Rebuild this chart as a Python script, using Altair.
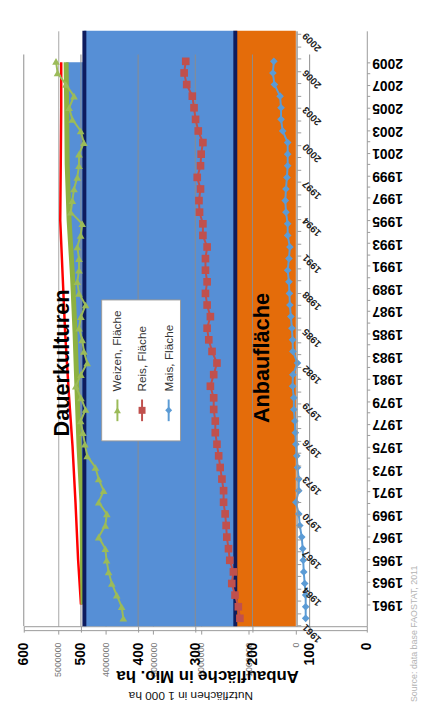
import altair as alt
import pandas as pd

# ---------------- data ----------------
jahre = list(range(1961, 2010))

# series (read in Mio. ha on the bold scale)
weizen = [425.9, 428.8, 437.4, 446.0, 451.7, 455.2, 457.4, 469.0, 457.4, 454.7,
          469.0, 460.3, 469.0, 474.7, 489.1, 493.1, 496.6, 500.5, 491.9, 500.0,
          509.1, 500.0, 489.1, 494.8, 497.8, 503.4, 500.0, 491.9, 503.4, 506.4,
          503.4, 503.4, 506.4, 500.5, 497.8, 517.8, 515.0, 512.1, 506.4, 503.4,
          503.4, 494.8, 500.5, 515.0, 520.7, 512.1, 526.4, 540.9, 543.6]
reis = [222.0, 224.7, 230.5, 236.2, 233.3, 239.7, 241.9, 244.8, 246.0, 247.8,
        250.5, 250.5, 253.4, 256.4, 259.1, 262.1, 265.0, 265.0, 267.8, 267.8,
        273.6, 267.8, 262.1, 270.7, 276.4, 279.3, 273.6, 279.3, 282.2, 279.3,
        282.2, 282.2, 279.3, 286.7, 286.7, 292.6, 293.6, 290.9, 296.6, 290.9,
        289.7, 286.7, 294.8, 299.5, 302.2, 305.2, 315.0, 319.5, 316.7]
mais = [106.9, 106.9, 106.9, 108.6, 110.3, 111.2, 112.1, 113.8, 117.2, 119.0,
        124.1, 119.0, 119.0, 121.2, 122.4, 124.1, 125.0, 125.9, 127.6, 127.6,
        129.8, 129.3, 121.2, 129.3, 129.8, 131.0, 132.8, 134.5, 135.3, 136.2,
        138.4, 136.2, 134.5, 138.4, 138.4, 141.4, 142.6, 141.4, 139.7, 138.4,
        138.4, 138.4, 147.1, 150.0, 150.0, 151.7, 161.6, 164.3, 162.6]
serien = ["Weizen, Fläche", "Reis, Fläche", "Mais, Fläche"]

# smooth total curves (Mio. ha)
kurve_jahre = [1961, 1965, 1970, 1975, 1980, 1985, 1990, 1995, 2000, 2005, 2009]
kurve_rot = [500.0, 505.0, 509.5, 514.7, 521.6, 527.6, 531.9, 536.2, 535.3, 534.5, 534.5]
kurve_oliv = [496.6, 497.4, 498.3, 503.4, 506.9, 510.3, 514.7, 520.7, 524.1, 525.0, 525.9]

linien_navy = [494, 230]
gitter = [100, 200, 300, 400, 500, 600]
achse_mio = [0, 100, 200, 300, 400, 500, 600]
achse_tsd = [0, 1000000, 2000000, 3000000, 4000000, 5000000]

flaechen = ["Anbaufläche", "Dauerkulturen"]
flaeche_von = [0, 1285000]
flaeche_bis = [1285000, 4456000]

texte_bereiche = ["Dauerkulturen", "Anbaufläche"]
quelle = ["Source: data base FAOSTAT, 2011"]

# ---------------- styles ----------------
FONT = "Liberation Sans"
BLAU = "#568FD6"
ORANGE = "#E46C0A"
NAVY = "#0E1C5E"
serien_farben = ["#9BBB59", "#C0504D", "#5B9BD5"]
formen = ["triangle-up", "square", "diamond"]

# ---------------- frames ----------------
df_ser = pd.DataFrame({
    "Jahr": jahre * 3,
    "Serie": [serien[0]] * len(jahre) + [serien[1]] * len(jahre) + [serien[2]] * len(jahre),
    "Wert": weizen + reis + mais,
})
df_kurve = pd.DataFrame({"Jahr": kurve_jahre, "rot": kurve_rot, "oliv": kurve_oliv,
                         "navy": [linien_navy[0]] * len(kurve_jahre)})
df_navy = pd.DataFrame({"wert": linien_navy})
df_gitter = pd.DataFrame({"wert": gitter})
df_fl = pd.DataFrame({"name": flaechen, "von": flaeche_von, "bis": flaeche_bis})
df_jahre = pd.DataFrame({"Jahr": jahre})

# ---------------- inner (1 000 ha) layer: coloured areas ----------------
xs_inner = alt.Scale(domain=[-1492000, 5720000], reverse=True, nice=False, zero=False)
inner_axis = alt.Axis(orient="bottom", offset=4, values=achse_tsd, format="d",
                      labelAngle=270, labelAlign="right", labelBaseline="middle",
                      labelFontSize=9, labelColor="#777", labelPadding=8,
                      tickSize=4, tickColor="#999", domainColor="#999",
                      grid=True, gridColor="#a6a6a6",
                      title="Nutzflächen in 1 000 ha", titleAngle=180, titleFontSize=12,
                      titleFontWeight="normal", titleColor="#111",
                      titleX=169, titleY=66, titleAlign="center", titleBaseline="middle")
inner = alt.Chart(df_fl).mark_rect().encode(
    x=alt.X("von:Q", scale=xs_inner, axis=inner_axis),
    x2="bis:Q",
    color=alt.Color("name:N", scale=alt.Scale(domain=flaechen, range=[ORANGE, BLAU]), legend=None),
)

# ---------------- outer (Mio. ha) layer ----------------
xs_outer = alt.Scale(domain=[0, 600], reverse=True, nice=False, zero=False)
ys_outer = alt.Scale(domain=[1959.08, 2011.79], nice=False, zero=False)
outer_x_axis = alt.Axis(orient="bottom", values=achse_mio, format="d",
                        labelAngle=270, labelAlign="right", labelBaseline="middle",
                        labelFontSize=14, labelFontWeight="bold", labelColor="#000",
                        labelPadding=10, tickSize=6, tickColor="#999", domainColor="#999",
                        grid=False,
                        title="Anbaufläche in Mio. ha", titleAngle=180, titleFontSize=17,
                        titleFontWeight="bold", titleColor="#000",
                        titleX=186, titleY=50, titleAlign="center", titleBaseline="middle")
outer_y_axis = alt.Axis(orient="right", values=jahre, format="d",
                        labelExpr="datum.value % 2 == 1 ? datum.label : ''",
                        labelAngle=180, labelAlign="right", labelBaseline="middle",
                        labelFontSize=14, labelFontWeight="bold", labelColor="#000",
                        labelPadding=2, tickSize=3, tickColor="#999", domainColor="#999",
                        labelOverlap=False, grid=False, title="")

ox = lambda f: alt.X(f, scale=xs_outer, axis=outer_x_axis)
oy = lambda f: alt.Y(f, scale=ys_outer, axis=outer_y_axis)

sliver = alt.Chart(df_kurve).mark_area(orient="horizontal", color=BLAU).encode(
    x=ox("oliv:Q"), x2="navy:Q", y=oy("Jahr:Q"))
grid_rules = alt.Chart(df_gitter).mark_rule(color="#8c8c8c", strokeWidth=1).encode(
    x=ox("wert:Q"), y=alt.value(24), y2=alt.value(604))
red_line = alt.Chart(df_kurve).mark_line(color="#FF0000", strokeWidth=2.5).encode(
    x=ox("rot:Q"), y=oy("Jahr:Q"), order="Jahr:Q")
olive_line = alt.Chart(df_kurve).mark_line(color="#8DB141", strokeWidth=5).encode(
    x=ox("oliv:Q"), y=oy("Jahr:Q"), order="Jahr:Q")
navy_rules = alt.Chart(df_navy).mark_rule(color=NAVY, strokeWidth=4).encode(x=ox("wert:Q"))

outer = alt.layer(sliver, grid_rules, red_line, olive_line, navy_rules)

# ---------------- series layer ----------------
ys_series = alt.Scale(domain=[1960.32, 2011.63], nice=False, zero=False)
col = alt.Color("Serie:N", scale=alt.Scale(domain=serien, range=serien_farben), legend=None)
ser_lines = alt.Chart(df_ser).mark_line(strokeWidth=2).encode(
    x=alt.X("Wert:Q", scale=xs_outer, axis=None),
    y=alt.Y("Jahr:Q", scale=ys_series, axis=None),
    color=col, order="Jahr:Q", detail="Serie:N")
ser_pts = alt.Chart(df_ser).mark_point(filled=True, size=60, opacity=1).encode(
    x=alt.X("Wert:Q", scale=xs_outer, axis=None),
    y=alt.Y("Jahr:Q", scale=ys_series, axis=None),
    color=col,
    shape=alt.Shape("Serie:N", scale=alt.Scale(domain=serien, range=formen), legend=None))
series = alt.layer(ser_lines, ser_pts)

# ---------------- diagonal year axis of the inner chart ----------------
diag = alt.Chart(df_jahre).mark_point(opacity=0).encode(
    y=alt.Y("Jahr:Q", scale=alt.Scale(domain=[1960.92, 2009.24], nice=False, zero=False),
            axis=alt.Axis(orient="right", offset=-71, values=jahre, format="d",
                          labelExpr="(datum.value - 1961) % 3 == 0 ? datum.label : ''",
                          labelAngle=225, labelAlign="right", labelBaseline="middle",
                          labelFontSize=10, labelFontWeight="bold", labelColor="#222",
                          labelPadding=3, tickSize=4, tickColor="#999", domainColor="#999",
                          labelOverlap=False, grid=False, title="", zindex=1)))

# ---------------- annotations ----------------
annots = []
for txt, px, py in zip(texte_bereiche, [39, 242], [337, 332]):
    annots.append(alt.Chart(pd.DataFrame({"t": [txt]})).mark_text(
        angle=270, align="center", baseline="middle", fontSize=22, fontWeight="bold",
        color="#000").encode(x=alt.value(px), y=alt.value(py), text="t:N"))
annots.append(alt.Chart(pd.DataFrame({"t": quelle})).mark_text(
    angle=270, align="left", baseline="middle", fontSize=9, color="#b3b3b3").encode(
    x=alt.value(396), y=alt.value(681), text="t:N"))

# legend box
annots.append(alt.Chart(pd.DataFrame({"t": ["legend"]})).mark_rect(
    fill="#ffffff", stroke="#9a9a9a", strokeWidth=1).encode(
    x=alt.value(79), x2=alt.value(159), y=alt.value(273), y2=alt.value(416)))
for name, farbe, form, lx in zip(serien, serien_farben, formen, [95, 120, 147]):
    d = pd.DataFrame({"name": [name]})
    annots.append(alt.Chart(d).mark_rule(color=farbe, strokeWidth=2).encode(
        x=alt.value(lx), y=alt.value(374), y2=alt.value(396)))
    annots.append(alt.Chart(d).mark_point(filled=True, shape=form, size=50, color=farbe,
                                          opacity=1).encode(x=alt.value(lx), y=alt.value(385)))
    annots.append(alt.Chart(d).mark_text(angle=270, align="left", baseline="middle",
                                         fontSize=12, color="#333").encode(
        x=alt.value(lx), y=alt.value(366), text="name:N"))

chart = alt.layer(inner, outer, series, diag, *annots).resolve_scale(
    x="independent", y="independent", color="independent", shape="independent"
).properties(
    width=348, height=604,
    autosize=alt.AutoSizeParams(type="none"),
    padding={"left": 16, "top": 18, "right": 56, "bottom": 90},
).configure(font=FONT).configure_view(stroke=None)

chart.save("out.html", embed_options={"renderer": "svg", "actions": False})
